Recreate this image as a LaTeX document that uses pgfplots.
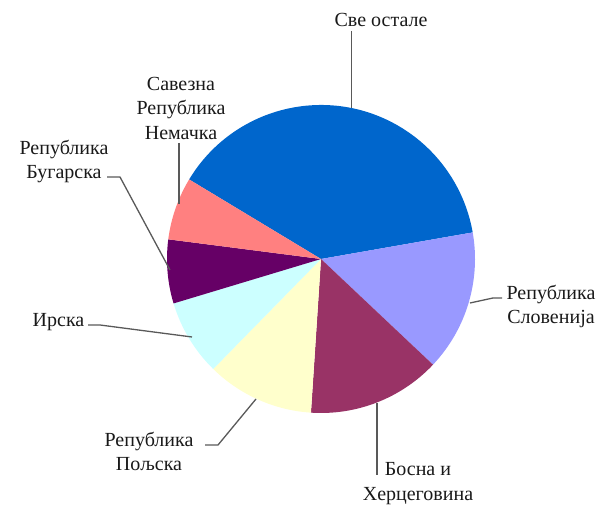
\documentclass[border=0pt]{standalone}
\usepackage{pgfplots}
\pgfplotsset{compat=1.18}
\usepackage{pgfplotstable}
\usepackage{fontspec}
\setmainfont{Liberation Serif}
\newfontfamily\lserif{Liberation Serif}

\definecolor{cBlue}{HTML}{0066CC}
\definecolor{cPeri}{HTML}{9999FF}
\definecolor{cMaroon}{HTML}{993366}
\definecolor{cYellow}{HTML}{FFFFCC}
\definecolor{cCyan}{HTML}{CCFFFF}
\definecolor{cPurple}{HTML}{660066}
\definecolor{cSalmon}{HTML}{FF8080}

% shares in percent, clockwise from the upper left edge of "Све остале"
\pgfplotstableread[col sep=comma]{
share,color
38.6,cBlue
14.8,cPeri
14.0,cMaroon
11.3,cYellow
8.0,cCyan
6.7,cPurple
6.6,cSalmon
}\piedata

\begin{document}
\begin{tikzpicture}[
    leader/.style={draw=black!65, line width=1.3pt},
    lbl/.style={align=center, inner sep=0pt, text=black!90,
      font=\lserif\fontsize{20}{24.5}\selectfont},
  ]
  \xdef\acc{148.9}
  \pgfplotsforeachungrouped \i in {0,...,6}{%
    \pgfplotstablegetelem{\i}{share}\of\piedata
    \pgfmathsetmacro\endang{\acc-3.6*\pgfplotsretval}%
    \expandafter\xdef\csname sa\i\endcsname{\acc}%
    \expandafter\xdef\csname ea\i\endcsname{\endang}%
    \pgfplotstablegetelem{\i}{color}\of\piedata
    \expandafter\xdef\csname sc\i\endcsname{\pgfplotsretval}%
    \xdef\acc{\endang}%
  }
  \begin{axis}[
    x=1pt, y=1pt,
    xmin=0, xmax=604, ymin=0, ymax=505,
    hide axis, clip=false,
  ]
    \path (axis cs:0,0) rectangle (axis cs:604,505);
    \pgfplotsinvokeforeach{0,...,6}{%
      \edef\slice{\noexpand\fill[\csname sc#1\endcsname] (axis cs:321,246) -- ++(\csname sa#1\endcsname:154pt)
        arc[start angle=\csname sa#1\endcsname, end angle=\csname ea#1\endcsname, radius=154pt] -- cycle;}%
      \slice
    }
    % leader lines
    \draw[leader] (axis cs:351.5,474) -- (axis cs:351.5,397);
    \draw[leader] (axis cs:179,362) -- (axis cs:179,301);
    \draw[leader] (axis cs:107,328) -- (axis cs:120,328) -- (axis cs:170,235);
    \draw[leader] (axis cs:88,180) -- (axis cs:100,180) -- (axis cs:192,168);
    \draw[leader] (axis cs:205,60) -- (axis cs:218,60) -- (axis cs:256,106);
    \draw[leader] (axis cs:470,202) -- (axis cs:493,207) -- (axis cs:502,207);
    \draw[leader] (axis cs:377,102) -- (axis cs:377,30);
    % labels
    \node[lbl] at (axis cs:381,485) {Све остале};
    \node[lbl] at (axis cs:181,397) {Савезна\\Република\\Немачка};
    \node[lbl] at (axis cs:64,343.5) {Република\\Бугарска};
    \node[lbl] at (axis cs:58.5,183) {Ирска};
    \node[lbl] at (axis cs:149,53.5) {Република\\Пољска};
    \node[lbl] at (axis cs:551,198.5) {Република\\Словенија};
    \node[lbl] at (axis cs:418,21.5) {Босна и\\Херцеговина};
  \end{axis}
\end{tikzpicture}
\end{document}
